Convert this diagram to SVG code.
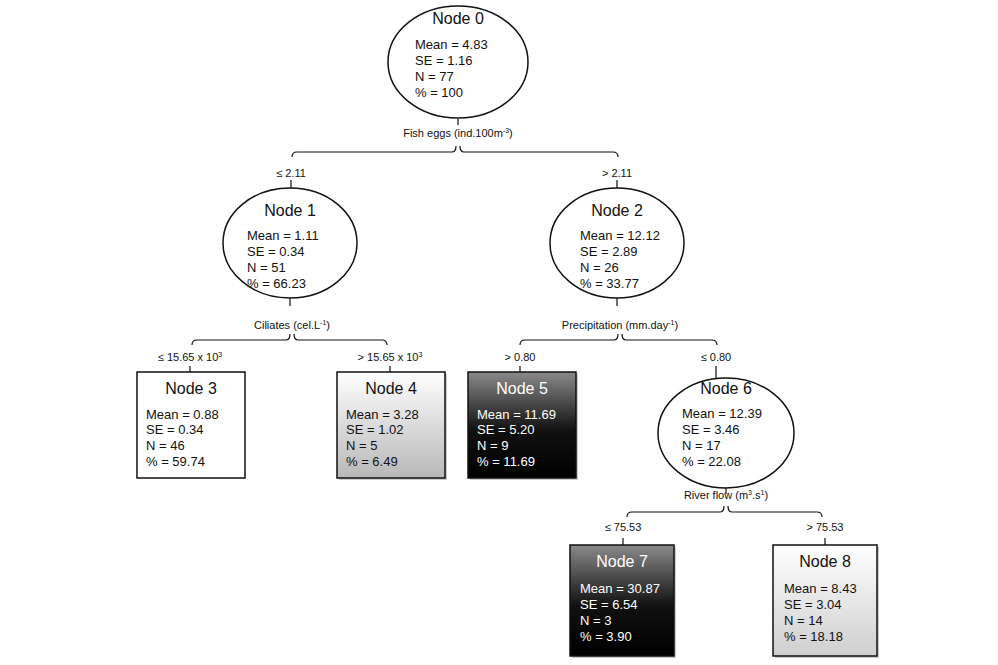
<svg xmlns="http://www.w3.org/2000/svg" width="998" height="665" viewBox="0 0 998 665">
<defs>
<linearGradient id="gLight" x1="0" y1="0" x2="0" y2="1"><stop offset="0" stop-color="#ffffff"/><stop offset="1" stop-color="#b8b8b8"/></linearGradient>
<linearGradient id="gDark" x1="0" y1="0" x2="0" y2="1"><stop offset="0" stop-color="#8a8a8a"/><stop offset="0.55" stop-color="#111"/><stop offset="1" stop-color="#000"/></linearGradient>
<linearGradient id="gPale" x1="0" y1="0" x2="0" y2="1"><stop offset="0" stop-color="#ffffff"/><stop offset="1" stop-color="#cfcfcf"/></linearGradient>
</defs>
<style>
text{font-family:"Liberation Sans",Arial,sans-serif;fill:#111}
.t{font-size:16px;text-anchor:middle}
.l{font-size:13px}
.c{font-size:11px;text-anchor:middle}
.w{fill:#fff}
.sh{fill:#999;opacity:0.5}
.n{stroke:#111;stroke-width:1.5}
.ln{fill:none;stroke:#111;stroke-width:1.2}
</style>
<rect width="998" height="665" fill="#fff"/>
<g id="connectors" class="ln">
<path d="M292,157 q0,-5 5,-5 H452 q4,0 4,-6 M460,146 q0,6 4,6 H613 q5,0 5,5"/>
<path d="M291,180 v8 M617,180 v8"/>
<path d="M192,345 q0,-5 5,-5 H286 q4,0 4,-6 M294,334 q0,6 4,6 H382 q5,0 5,5"/>
<path d="M520,345 q0,-5 5,-5 H614 q4,0 4,-6 M622,334 q0,6 4,6 H712 q5,0 5,5"/>
<path d="M458,119 v6 M290,298 v8 M617,298 v8 M726,488 v6"/>
<path d="M190,366 v6 M390,366 v6 M520,366 v6 M716,366 v12"/>
<path d="M627,517 q0,-5 5,-5 H720 q4,0 4,-6 M728,506 q0,6 4,6 H817 q5,0 5,5"/>
<path d="M623,538 v7 M825,538 v7"/>
</g>
<g class="c">
<text x="458" y="137">Fish eggs (ind.100m<tspan dy="-4" font-size="7">-3</tspan><tspan dy="4">)</tspan></text>
<text x="291" y="177">≤ 2.11</text>
<text x="617" y="177">&gt; 2.11</text>
<text x="292" y="329">Ciliates (cel.L<tspan dy="-4" font-size="7">-1</tspan><tspan dy="4">)</tspan></text>
<text x="190" y="361">≤ 15.65 x 10<tspan dy="-4" font-size="7">3</tspan></text>
<text x="390" y="361">&gt; 15.65 x 10<tspan dy="-4" font-size="7">3</tspan></text>
<text x="620" y="329">Precipitation (mm.day<tspan dy="-4" font-size="7">-1</tspan><tspan dy="4">)</tspan></text>
<text x="520" y="361">&gt; 0.80</text>
<text x="716" y="361">≤ 0.80</text>
<text x="726" y="499">River flow (m<tspan dy="-4" font-size="7">3</tspan><tspan dy="4">.s</tspan><tspan dy="-4" font-size="7">1</tspan><tspan dy="4">)</tspan></text>
<text x="623" y="531">≤ 75.53</text>
<text x="825" y="531">&gt; 75.53</text>
</g>
<g id="node0"><ellipse cx="458" cy="62" rx="70" ry="56" fill="#fff" class="n"/>
<text class="t" x="458" y="24">Node 0</text>
<text class="l" x="415" y="49">Mean = 4.83</text><text class="l" x="415" y="65">SE = 1.16</text><text class="l" x="415" y="81">N = 77</text><text class="l" x="415" y="97">% = 100</text></g>
<g id="node1"><ellipse cx="290" cy="243" rx="67" ry="55" fill="#fff" class="n"/>
<text class="t" x="290" y="216">Node 1</text>
<text class="l" x="247" y="240">Mean = 1.11</text><text class="l" x="247" y="256">SE = 0.34</text><text class="l" x="247" y="272">N = 51</text><text class="l" x="247" y="288">% = 66.23</text></g>
<g id="node2"><ellipse cx="617" cy="243" rx="67" ry="55" fill="#fff" class="n"/>
<text class="t" x="617" y="216">Node 2</text>
<text class="l" x="580" y="240">Mean = 12.12</text><text class="l" x="580" y="256">SE = 2.89</text><text class="l" x="580" y="272">N = 26</text><text class="l" x="580" y="288">% = 33.77</text></g>
<g id="node3"><rect x="137" y="372" width="108" height="106" fill="#fff" class="n"/>
<text class="t" x="191" y="394">Node 3</text>
<text class="l" x="146" y="419">Mean = 0.88</text><text class="l" x="146" y="434">SE = 0.34</text><text class="l" x="146" y="450">N = 46</text><text class="l" x="146" y="466">% = 59.74</text></g>
<g id="node4"><rect x="339" y="374" width="108" height="106" class="sh"/><rect x="337" y="372" width="108" height="106" fill="url(#gLight)" class="n"/>
<text class="t" x="391" y="394">Node 4</text>
<text class="l" x="346" y="419">Mean = 3.28</text><text class="l" x="346" y="434">SE = 1.02</text><text class="l" x="346" y="450">N = 5</text><text class="l" x="346" y="466">% = 6.49</text></g>
<g id="node5"><rect x="470" y="374" width="108" height="106" class="sh"/><rect x="468" y="372" width="108" height="106" fill="url(#gDark)" class="n"/>
<text class="t w" x="522" y="394">Node 5</text>
<text class="l w" x="477" y="419">Mean = 11.69</text><text class="l w" x="477" y="434">SE = 5.20</text><text class="l w" x="477" y="450">N = 9</text><text class="l w" x="477" y="466">% = 11.69</text></g>
<g id="node6"><ellipse cx="726" cy="433" rx="68" ry="55" fill="#fff" class="n"/>
<text class="t" x="726" y="394">Node 6</text>
<text class="l" x="682" y="418">Mean = 12.39</text><text class="l" x="682" y="434">SE = 3.46</text><text class="l" x="682" y="450">N = 17</text><text class="l" x="682" y="466">% = 22.08</text></g>
<g id="node7"><rect x="572" y="547" width="104" height="111" class="sh"/><rect x="570" y="545" width="104" height="111" fill="url(#gDark)" class="n"/>
<text class="t w" x="622" y="567">Node 7</text>
<text class="l w" x="580" y="593">Mean = 30.87</text><text class="l w" x="580" y="609">SE = 6.54</text><text class="l w" x="580" y="625">N = 3</text><text class="l w" x="580" y="641">% = 3.90</text></g>
<g id="node8"><rect x="775" y="547" width="104" height="111" class="sh"/><rect x="773" y="545" width="104" height="111" fill="url(#gPale)" class="n"/>
<text class="t" x="825" y="567">Node 8</text>
<text class="l" x="784" y="593">Mean = 8.43</text><text class="l" x="784" y="609">SE = 3.04</text><text class="l" x="784" y="625">N = 14</text><text class="l" x="784" y="641">% = 18.18</text></g>
</svg>
